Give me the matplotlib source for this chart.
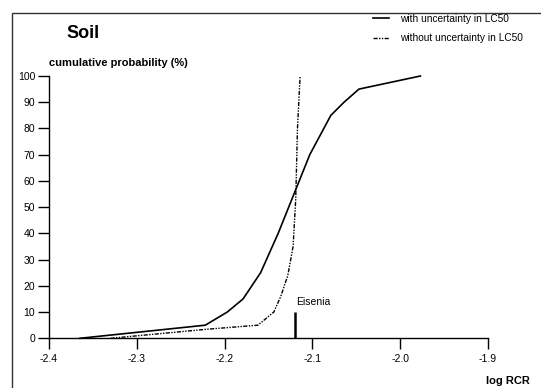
import matplotlib
matplotlib.use("Agg")
import matplotlib.pyplot as plt
from matplotlib.patches import Rectangle

plt.rcParams['font.family'] = ['Liberation Sans', 'DejaVu Sans']

# data
x_with = [-2.365, -2.222, -2.197, -2.179, -2.159, -2.139, -2.103, -2.079, -2.064, -2.047, -1.977]
y_with = [0, 5, 10, 15, 25, 40, 70, 85, 90, 95, 100]
x_without = [-2.33, -2.222, -2.162, -2.144, -2.136, -2.128, -2.122, -2.119, -2.117, -2.114]
y_without = [0, 3.4, 5, 10, 16, 24, 35, 53, 80, 100]
eisenia_x = -2.12
eisenia_h = 10
xticks = [-2.4, -2.3, -2.2, -2.1, -2.0, -1.9]
xticklabels = ['-2.4', '-2.3', '-2.2', '-2.1', '-2.0', '-1.9']
yticks = [0, 10, 20, 30, 40, 50, 60, 70, 80, 90, 100]

W, H = 541, 388
fig = plt.figure(figsize=(W / 100, H / 100), dpi=100)
ax = fig.add_axes([49 / W, (H - 338.3) / H, (488 - 49) / W, (338.3 - 76) / H])

ax.plot(x_with, y_with, color='black', lw=1.2, solid_joinstyle='miter',
        label='with uncertainty in LC50', clip_on=False)
ax.plot(x_without, y_without, color='black', lw=1.0,
        dashes=(3, 1, 1, 1, 1, 1), label='without uncertainty in LC50', clip_on=False)
ax.plot([eisenia_x, eisenia_x], [0, eisenia_h], color='black', lw=1.8, solid_capstyle='butt')
ax.text(eisenia_x + 0.002, eisenia_h + 2, 'Eisenia', fontsize=7.5, ha='left', va='bottom')

ax.set_xlim(-2.4, -1.9)
ax.set_ylim(0, 100)
ax.set_xticks(xticks)
ax.set_xticklabels(xticklabels)
ax.set_yticks(yticks)
for s in ['top', 'right']:
    ax.spines[s].set_visible(False)
for s in ['left', 'bottom']:
    ax.spines[s].set_linewidth(1.0)
ax.tick_params(axis='both', direction='out', length=8, width=1.0, labelsize=7.5, pad=2)
ax.tick_params(axis='x', pad=3.5)

fig.text(66 / W, 1 - 33 / H, 'Soil', fontsize=13, fontweight='bold', ha='left', va='center')
fig.text(49 / W, 1 - 63 / H, 'cumulative probability (%)', fontsize=8, fontweight='bold',
         ha='left', va='center')
fig.text(530 / W, 1 - 381 / H, 'log RCR', fontsize=8, fontweight='bold', ha='right', va='center')

leg = fig.legend(loc='upper left', bbox_to_anchor=(373 / W, 1 - 14 / H), frameon=False,
                 fontsize=7.3, handlelength=1.6, handletextpad=1.1, labelspacing=0.9,
                 borderaxespad=0, borderpad=0)

fig.patches.append(Rectangle((11.5 / W, -0.1), 1.2, 1 - 12.8 / H + 0.1, transform=fig.transFigure,
                             fill=False, edgecolor='#333333', lw=1.0))

fig.savefig('out.png', dpi=100)
